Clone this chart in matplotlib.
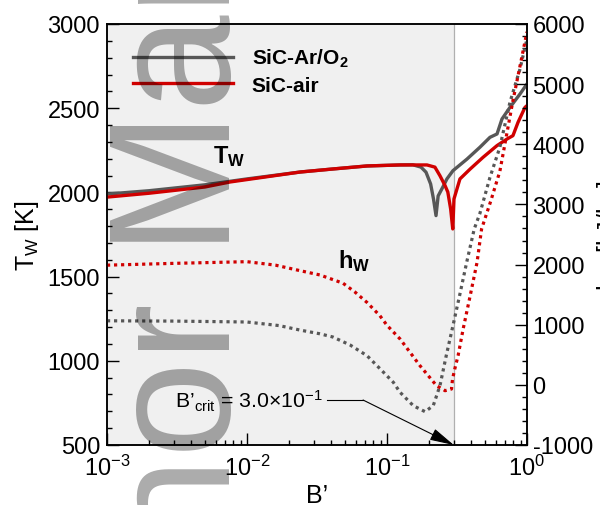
import matplotlib.pyplot as plt
from matplotlib.ticker import MultipleLocator, LogLocator, NullFormatter

plt.rcParams["font.family"] = "Liberation Sans"
plt.rcParams["mathtext.fontset"] = "custom"
plt.rcParams["mathtext.rm"] = "Liberation Sans"
plt.rcParams["mathtext.it"] = "Liberation Sans:italic"
plt.rcParams["mathtext.bf"] = "Liberation Sans:bold"
plt.rcParams["axes.unicode_minus"] = False

B_CRIT = 0.3

# wall temperature, SiC-Ar/O2
b_tw_aro2 = [0.001, 0.002, 0.005, 0.01, 0.024, 0.041, 0.072, 0.124, 0.153, 0.175, 0.19,
             0.205, 0.215, 0.224, 0.232, 0.25, 0.268, 0.296, 0.373, 0.461, 0.544, 0.611,
             0.663, 0.756, 0.891, 1.0]
tw_aro2 = [1990, 2010, 2045, 2080, 2121, 2139, 2157, 2163, 2164, 2150, 2120,
           2050, 1960, 1862, 1979, 2030, 2080, 2129, 2198, 2268, 2327, 2347,
           2436, 2505, 2584, 2644]

# wall temperature, SiC-air
b_tw_air = [0.001, 0.002, 0.005, 0.0076, 0.024, 0.041, 0.072, 0.124, 0.193, 0.22, 0.239,
            0.26, 0.272, 0.285, 0.295, 0.301, 0.332, 0.393, 0.485, 0.611, 0.72, 0.794,
            0.863, 0.968, 1.0]
tw_air = [1972, 1995, 2032, 2062, 2121, 2139, 2157, 2163, 2163, 2150, 2099,
          2040, 2002, 1901, 1783, 1961, 2080, 2139, 2208, 2278, 2317, 2337,
          2416, 2505, 2515]

# wall enthalpy, SiC-Ar/O2
b_hw_aro2 = [0.001, 0.003, 0.01, 0.017, 0.024, 0.033, 0.041, 0.0545, 0.072, 0.089, 0.111,
             0.124, 0.154, 0.187, 0.214, 0.239, 0.265, 0.296, 0.33, 0.371, 0.42, 0.461,
             0.544, 0.64, 0.756, 0.891, 1.0]
hw_aro2 = [1065, 1060, 1045, 985, 910, 850, 796, 663, 485, 270, 42,
           -124, -346, -446, -346, -14, 485, 984, 1483, 2038, 2592, 2850,
           3450, 3950, 4700, 5250, 5750]

# wall enthalpy, SiC-air
b_hw_air = [0.001, 0.003, 0.01, 0.016, 0.024, 0.0332, 0.0485, 0.059, 0.072, 0.089, 0.1,
            0.124, 0.172, 0.226, 0.26, 0.289, 0.294, 0.305, 0.322, 0.35, 0.393, 0.44,
            0.474, 0.55, 0.64, 0.79, 1.0]
hw_air = [1990, 2020, 2048, 1990, 1898, 1827, 1690, 1544, 1370, 1150, 990,
          763, 319, -14, -97, -69, 97, 264, 485, 929, 1483, 2038,
          2592, 3050, 3550, 4700, 5870]

GRAY = "#575757"
RED = "#d00000"

fig = plt.figure(figsize=(6, 5.06), dpi=100)
ax = fig.add_axes([0.1783, 0.1186, 0.70, 0.832])
ax2 = ax.twinx()

ax.axvspan(1e-3, B_CRIT, color="#f0f0f0", zorder=0, lw=0)
ax.axvline(B_CRIT, color="#b0b0b0", lw=0.9, zorder=1)

ax.plot(b_tw_aro2, tw_aro2, color=GRAY, lw=2.4, label=r"SiC-Ar/O$_\mathbf{2}$", zorder=3)
ax.plot(b_tw_air, tw_air, color=RED, lw=2.4, label="SiC-air", zorder=3)
ax2.plot(b_hw_aro2, hw_aro2, color=GRAY, lw=2.3, ls=(0, (1, 1.2)))
ax2.plot(b_hw_air, hw_air, color=RED, lw=2.3, ls=(0, (1, 1.2)))

ax.set_xscale("log")
ax.set_xlim(1e-3, 1)
ax.set_ylim(500, 3000)
ax2.set_ylim(-1000, 6000)
ax.yaxis.set_major_locator(MultipleLocator(500))
ax.yaxis.set_minor_locator(MultipleLocator(100))
ax2.yaxis.set_major_locator(MultipleLocator(1000))
ax2.yaxis.set_minor_locator(MultipleLocator(200))
ax.xaxis.set_minor_locator(LogLocator(base=10, subs=range(2, 10)))
ax.xaxis.set_minor_formatter(NullFormatter())

ax.tick_params(which="both", direction="in", top=False, right=False, labelsize=17, width=1)
ax.tick_params(which="major", length=8.5, pad=5)
ax.tick_params(which="minor", length=3.8)
ax.tick_params(axis="x", pad=7)
ax2.tick_params(which="both", direction="in", left=False, labelsize=17, width=1)
ax2.tick_params(which="major", length=8.5, pad=4)
ax2.tick_params(which="minor", length=3.8)
for a in (ax, ax2):
    for s in a.spines.values():
        s.set_linewidth(1.1)

ax.set_xlabel("B’", fontsize=18, labelpad=2)
fig.text(13 / 600, 0.5346, r"T$_\mathrm{W}$ [K]", rotation=90, ha="left", va="center", fontsize=18)
fig.text(595 / 600, 0.5346, r"h$_\mathrm{W}$ [kJ/kg]", rotation=90, ha="left", va="center", fontsize=18)

ax.text(0.00571, 2180, r"T$_\mathbf{W}$", fontsize=17, fontweight="bold", va="baseline")
ax.text(0.0447, 1557, r"h$_\mathbf{W}$", fontsize=17, fontweight="bold", va="baseline")

ax.text(0.00306, 767, r"B’$_\mathrm{crit}$ = 3.0×10$^{-1}$", fontsize=15.3, va="center")
ax.plot([0.0372, 0.0675], [767, 767], color="k", lw=0.8)
ax.annotate("", xy=(B_CRIT, 500), xytext=(0.0675, 767),
            arrowprops=dict(arrowstyle="-|>,head_length=1.0,head_width=0.25", color="k",
                            lw=0.8, mutation_scale=15, shrinkA=0, shrinkB=0))

ax.legend(loc="upper left", bbox_to_anchor=(0.062, 0.945), frameon=False, borderpad=0,
          borderaxespad=0, handlelength=4.8, handletextpad=0.9, labelspacing=0.3,
          prop={"weight": "bold", "size": 15})

fig.text(230 / 600, -307 / 506, "Author Manuscript", rotation=90, rotation_mode="anchor",
         ha="left", va="baseline", fontsize=124.6, color="k", alpha=0.33, zorder=10)

fig.savefig("out.png", dpi=100)
